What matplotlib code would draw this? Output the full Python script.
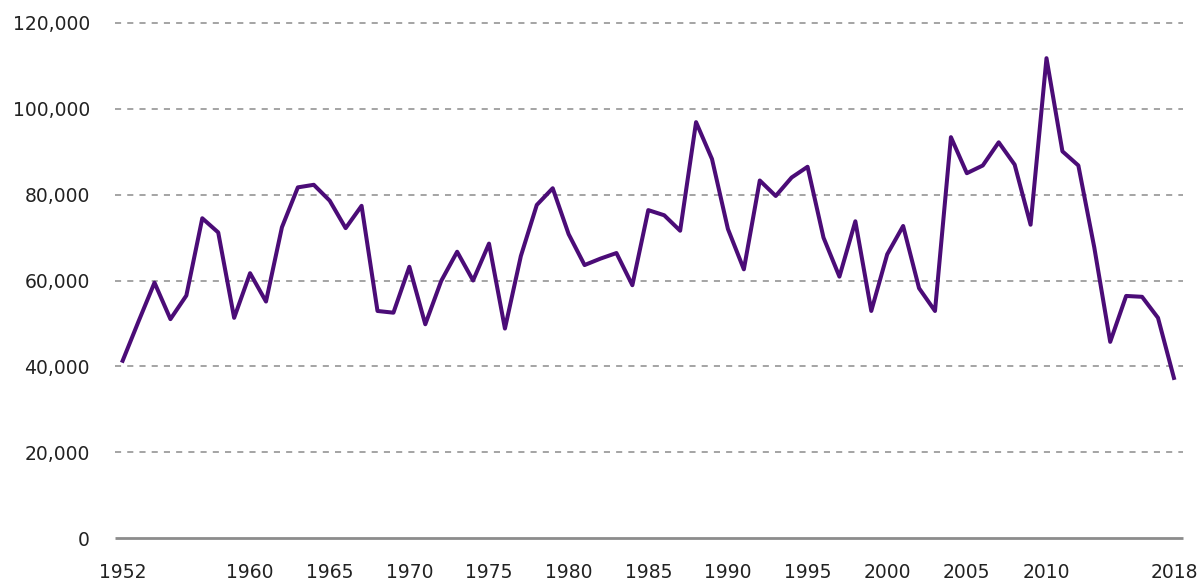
import numpy as np
import matplotlib
matplotlib.use("Agg")
import matplotlib.pyplot as plt
from matplotlib.ticker import FuncFormatter

# Yearly values 1952-2018
years = list(range(1952, 2019))
values = [
    41.3, 50.5, 59.5, 51.0, 56.5, 74.5, 71.2, 51.3, 61.7, 55.1,
    72.4, 81.7, 82.3, 78.6, 72.2, 77.4, 52.9, 52.5, 63.2, 49.8,
    59.9, 66.7, 60.0, 68.6, 48.8, 65.7, 77.6, 81.5, 70.8, 63.6,
    65.1, 66.4, 58.9, 76.4, 75.2, 71.6, 96.9, 88.3, 72.0, 62.6,
    83.3, 79.7, 84.0, 86.5, 70.0, 60.9, 73.8, 52.9, 66.1, 72.7,
    58.2, 52.9, 93.4, 85.0, 86.8, 92.2, 87.0, 73.0, 111.8, 90.1,
    86.8, 67.7, 45.7, 56.4, 56.2, 51.3, 37.3,
]
values = [v * 1000 for v in values]

xticks = [1952, 1960, 1965, 1970, 1975, 1980, 1985, 1990, 1995, 2000, 2005, 2010, 2018]
yticks = [0, 20000, 40000, 60000, 80000, 100000, 120000]

fig = plt.figure(figsize=(12.02, 5.81), dpi=100)
ax = fig.add_axes([115 / 1202, 1 - 538 / 581, (1183 - 115) / 1202, (538 - 23) / 581])

# dashed gridlines
for yv in yticks[1:]:
    ax.axhline(yv, color="#8c8c8c", lw=1.1, dashes=(4, 4), zorder=1, clip_on=False)
ax.axhline(0, color="#8c8c8c", lw=2.0, zorder=1, solid_capstyle="butt", clip_on=False)

ax.plot(years, values, color="#4b0c77", lw=2.9, zorder=3, clip_on=False)

ax.set_xlim(1951.52, 2018.57)
ax.set_ylim(0, 120000)
ax.set_xticks(xticks)
ax.set_yticks(yticks)
ax.yaxis.set_major_formatter(FuncFormatter(lambda v, p: f"{int(v):,}"))

for s in ax.spines.values():
    s.set_visible(False)
ax.tick_params(axis="both", length=0, labelsize=13.5, colors="#222222")
ax.tick_params(axis="y", pad=18)
ax.tick_params(axis="x", pad=18)

fig.savefig("out.png", dpi=100)
